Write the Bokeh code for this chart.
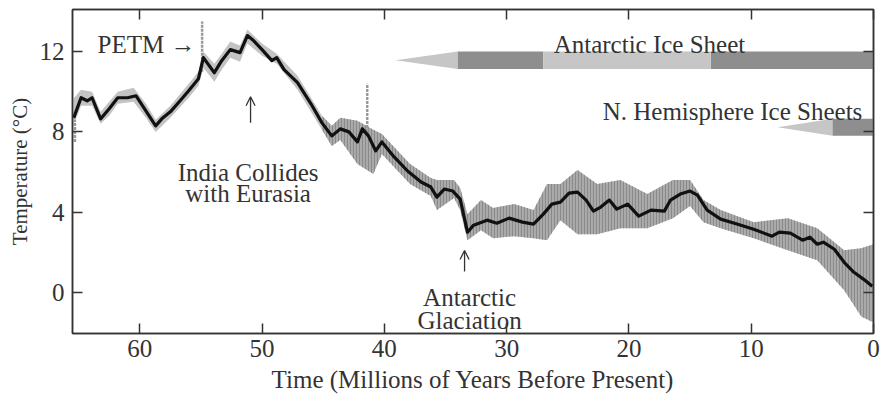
from bokeh.plotting import figure
from bokeh.models import Range1d, LinearAxis, FixedTicker, Arrow, OpenHead
from bokeh.core.properties import value
from bokeh.embed import file_html
from bokeh.resources import INLINE

# ---- data ----
curve_age = [65.4, 64.8, 64.3, 63.9, 63.2, 62.5, 61.8, 61.0, 60.3, 59.5, 58.7, 58.2, 57.5, 56.7, 56.0,
             55.2, 54.8, 53.9, 53.3, 52.6, 51.8, 51.2, 50.7, 50.0, 49.2, 48.8, 48.2, 47.1, 46.0, 45.1,
             44.3, 43.6, 42.9, 42.2, 41.8, 41.3, 40.7, 40.2, 39.2, 38.1, 37.0, 36.2, 35.7, 35.1, 34.4,
             33.8, 33.2, 32.7, 31.6, 30.8, 29.8, 28.7, 27.8, 27.0, 26.3, 25.6, 24.9, 24.2, 23.5, 22.9,
             22.3, 21.6, 21.0, 20.1, 19.2, 18.2, 17.1, 16.6, 15.8, 15.0, 14.4, 13.6, 12.5, 11.1, 9.8,
             8.3, 7.7, 6.8, 5.8, 5.2, 4.6, 4.1, 3.2, 2.4, 1.6, 0.8, 0.1]
curve_temp = [8.7, 9.7, 9.55, 9.7, 8.65, 9.15, 9.7, 9.7, 9.8, 9.05, 8.3, 8.65, 9.0, 9.55, 10.05,
              10.65, 11.7, 10.95, 11.55, 12.1, 11.95, 12.8, 12.55, 12.1, 11.55, 11.7, 11.1, 10.45, 9.4, 8.45,
              7.8, 8.15, 8.0, 7.5, 8.15, 7.8, 7.05, 7.5, 6.75, 6.05, 5.5, 5.25, 4.75, 5.15, 5.05,
              4.65, 3.0, 3.35, 3.6, 3.45, 3.7, 3.5, 3.4, 3.9, 4.4, 4.5, 4.95, 5.0, 4.6, 4.05,
              4.25, 4.6, 4.15, 4.4, 3.8, 4.1, 4.05, 4.6, 4.9, 5.05, 4.85, 4.1, 3.65, 3.4, 3.15,
              2.8, 3.0, 2.95, 2.6, 2.75, 2.4, 2.5, 2.15, 1.5, 1.0, 0.65, 0.3]

# sparse scatter envelope (early part)
early_age = [65.5, 64.8, 63.9, 63.2, 62.5, 61.8, 60.5, 59.5, 58.7, 57.5, 56.0, 55.2, 54.8, 53.9, 53.3,
             52.6, 51.8, 51.2, 50.0, 48.8, 47.1, 45.1]
early_low = [8.2, 9.3, 9.3, 8.4, 8.8, 9.4, 9.5, 8.7, 8.0, 8.7, 9.7, 10.3, 11.2, 10.5, 11.1,
             11.7, 11.5, 12.4, 11.8, 11.4, 10.1, 8.1]
early_high = [9.6, 10.1, 10.0, 9.0, 9.5, 10.0, 10.2, 9.4, 8.6, 9.3, 10.4, 11.0, 12.0, 11.4, 11.9,
              12.5, 12.3, 13.1, 12.4, 11.9, 10.8, 8.8]
# dense scatter envelope (later part)
band_age = [45.1, 44.3, 43.6, 42.2, 40.9, 40.2, 37.9, 36.2, 35.7, 34.3, 33.8, 33.2, 32.1, 31.1, 29.4,
            27.8, 26.7, 25.6, 24.2, 22.6, 20.7, 18.5, 16.4, 15.0, 13.9, 12.5, 9.8, 7.0, 4.6, 2.4,
            1.0, 0.0]
band_low = [8.1, 7.3, 7.6, 6.4, 5.9, 6.9, 5.4, 4.8, 4.1, 4.7, 4.1, 2.6, 3.1, 2.7, 2.8,
            2.7, 2.6, 3.6, 2.9, 2.9, 3.2, 3.2, 3.7, 4.3, 3.5, 3.2, 2.7, 2.1, 1.6, 0.1,
            -1.2, -1.5]
band_high = [8.8, 8.3, 8.7, 8.55, 8.1, 7.9, 6.4, 5.7, 5.6, 5.6, 5.2, 3.9, 4.6, 4.2, 4.4,
             4.1, 5.4, 5.4, 6.1, 5.4, 5.6, 4.9, 5.6, 5.6, 4.6, 4.1, 3.5, 3.7, 3.2, 2.1,
             2.2, 2.4]

spike_age = [54.9, 41.4, 65.3]
spike_low = [11.0, 7.8, 7.5]
spike_high = [13.5, 10.4, 8.6]

x_ticks = [0, 10, 20, 30, 40, 50, 60]
y_ticks = [0, 4, 8, 12]

# ice sheet bars: ages in Myr
ant_wedge = [39.1, 34.0]
ant_dark = [(34.0, 27.0), (13.3, 0.0)]
ant_light = [(27.0, 13.3)]
nh_wedge = [7.85, 3.35]
nh_dark = [(3.35, 0.0)]

FONT = "Liberation Serif"
TXT = "#333333"
LIGHT = "#c6c6c6"
DARK = "#8e8e8e"

p = figure(frame_width=801, frame_height=324, output_backend="svg", toolbar_location=None,
           x_range=Range1d(65.5, 0), y_range=Range1d(-2.05, 14.1),
           min_border_left=72, min_border_right=8, min_border_top=9, min_border_bottom=67)
p.grid.visible = False
p.outline_line_color = "#333333"
p.outline_line_width = 1.5

# scatter envelopes
p.varea(x=early_age, y1=early_low, y2=early_high, fill_color="#b4b4b4", fill_alpha=0.8)
p.varea(x=band_age, y1=band_low, y2=band_high, fill_color="#a2a2a2", fill_alpha=0.9,
        hatch_pattern="vertical_line", hatch_color="#8a8a8a", hatch_scale=3, hatch_weight=1.2)
p.segment(x0=spike_age, y0=spike_low, x1=spike_age, y1=spike_high, line_color="#999999",
          line_width=2.5, line_dash="3 1")
# smoothed curve
p.line(curve_age, curve_temp, line_color="#111111", line_width=3.2, line_join="round")

# Antarctic ice sheet bar
AY0, AY1 = 11.14, 12.01
p.patch([ant_wedge[0], ant_wedge[1], ant_wedge[1]], [(AY0 + AY1) / 2, AY1, AY0],
        fill_color=LIGHT, line_color=None)
p.quad(left=[a for a, b in ant_dark], right=[b for a, b in ant_dark], bottom=AY0, top=AY1,
       fill_color=DARK, line_color=None)
p.quad(left=[a for a, b in ant_light], right=[b for a, b in ant_light], bottom=AY0, top=AY1,
       fill_color=LIGHT, line_color=None)
# NH ice sheet bar
NY0, NY1 = 7.81, 8.66
p.patch([nh_wedge[0], nh_wedge[1], nh_wedge[1]], [(NY0 + NY1) / 2, NY1, NY0],
        fill_color=LIGHT, line_color=None)
p.quad(left=[a for a, b in nh_dark], right=[b for a, b in nh_dark], bottom=NY0, top=NY1,
       fill_color=DARK, line_color=None)

# annotations
p.text(x=[63.45], y=[12.34], text=["PETM \u2192"], text_font=value(FONT), text_font_size="25px",
       text_align="left", text_baseline="alphabetic", text_color=TXT)
p.text(x=[51.14, 51.14, 18.32, 11.53, 33.03, 33.03], y=[5.97, 4.93, 12.34, 9.0, -0.25, -1.39],
       text=["India Collides", "with Eurasia", "Antarctic Ice Sheet", "N. Hemisphere Ice Sheets",
             "Antarctic", "Glaciation"],
       text_font=value(FONT), text_font_size="25px", text_align="center",
       text_baseline="alphabetic", text_color=TXT)
for xa, ys, ye in [(50.94, 8.46, 9.75), (33.44, 1.04, 2.09)]:
    p.add_layout(Arrow(end=OpenHead(size=9, line_width=1.3, line_color=TXT),
                       x_start=xa, y_start=ys, x_end=xa, y_end=ye,
                       line_width=1.3, line_color=TXT))

# axes
p.xaxis.ticker = FixedTicker(ticks=x_ticks)
p.yaxis.ticker = FixedTicker(ticks=y_ticks)
p.xaxis.axis_label = "Time (Millions of Years Before Present)"
p.yaxis.axis_label = "Temperature (\u00b0C)"
for ax in (p.xaxis[0], p.yaxis[0]):
    ax.major_label_text_font = FONT
    ax.major_label_text_font_size = "25px"
    ax.major_label_text_color = TXT
    ax.axis_label_text_font = FONT
    ax.axis_label_text_font_style = "normal"
    ax.axis_label_text_color = TXT
    ax.major_tick_in = 10
    ax.major_tick_out = 0
    ax.minor_tick_line_color = None
    ax.axis_line_color = "#333333"
    ax.axis_line_width = 1.5
    ax.major_tick_line_color = "#333333"
    ax.major_tick_line_width = 1.5
p.xaxis.axis_label_text_font_size = "25px"
p.yaxis.axis_label_text_font_size = "21px"
p.xaxis.major_label_standoff = 6
p.xaxis.axis_label_standoff = 6
p.yaxis.major_label_standoff = 8
p.yaxis.axis_label_standoff = 5

# mirrored ticks on top and right (labels not drawn)
for loc, ticks in (("above", x_ticks), ("right", y_ticks)):
    ax = LinearAxis(ticker=FixedTicker(ticks=ticks), major_label_text_font_size="1px",
                    major_label_text_color=None,
                    major_label_standoff=0, major_tick_in=10, major_tick_out=0,
                    minor_tick_line_color=None, axis_line_color="#333333", axis_line_width=1.5,
                    major_tick_line_color="#333333", major_tick_line_width=1.5)
    p.add_layout(ax, loc)

open("out.html", "w").write(file_html(p, INLINE))
